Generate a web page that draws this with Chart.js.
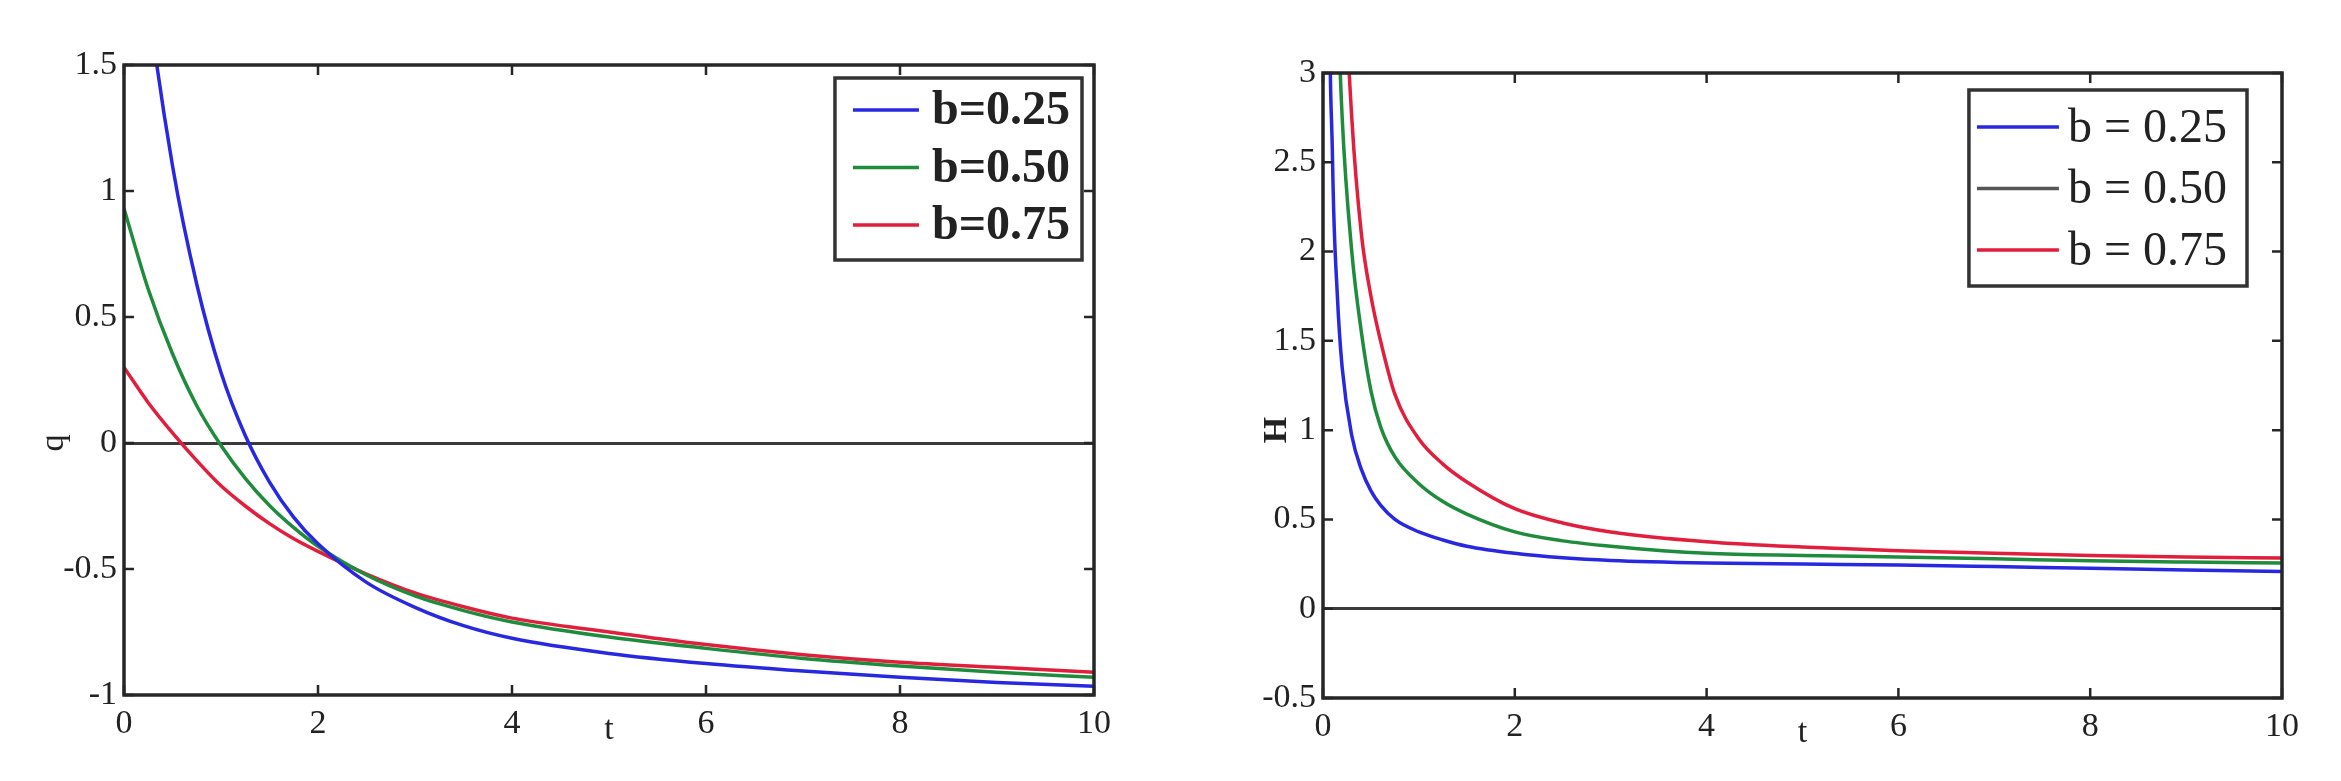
<!DOCTYPE html>
<html>
<head>
<meta charset="utf-8">
<script src="https://cdn.jsdelivr.net/npm/chart.js@4.4.1/dist/chart.umd.min.js"></script>
<style>
  html, body { margin: 0; padding: 0; background: #fff; }
  #wrap { position: relative; width: 2341px; height: 781px; background: #fff; }
  canvas { position: absolute; top: 0; }
  #qChart { left: 0; }
  #hChart { left: 1170px; }
</style>
</head>
<body>
<div id="wrap">
  <canvas id="qChart" width="1170" height="781"></canvas>
  <canvas id="hChart" width="1171" height="781"></canvas>
</div>
<script>
// ---- data ----
const xTicks = [0, 2, 4, 6, 8, 10];

// left panel: q(t)
const qLabels = ['b=0.25', 'b=0.50', 'b=0.75'];
const tQ  = [0, 0.25, 0.5, 0.75, 1, 1.25, 1.5, 1.75, 2, 2.5, 3, 3.5, 4, 5, 6, 7, 8, 9, 10];
const q25 = [2.7, 1.76, 1.10, 0.63, 0.28, 0.03, -0.155, -0.295, -0.40, -0.553, -0.652, -0.725, -0.775, -0.835, -0.875, -0.905, -0.93, -0.95, -0.965];
const q50 = [0.93, 0.61, 0.354, 0.148, -0.01, -0.14, -0.248, -0.336, -0.41, -0.524, -0.607, -0.665, -0.71, -0.77, -0.815, -0.855, -0.885, -0.91, -0.93];
const q75 = [0.30, 0.16, 0.04, -0.07, -0.17, -0.25, -0.32, -0.38, -0.43, -0.52, -0.595, -0.65, -0.695, -0.75, -0.80, -0.84, -0.87, -0.89, -0.91];

// right panel: H(t)
const hLabels = ['b = 0.25', 'b = 0.50', 'b = 0.75'];
const tH  = [0.02, 0.05, 0.1, 0.15, 0.2, 0.3, 0.4, 0.5, 0.6, 0.75, 1, 1.25, 1.5, 2, 2.5, 3, 4, 5, 6, 7, 8, 9, 10];
const h25 = [11.7, 4.8, 2.5, 1.75, 1.35, 0.97, 0.78, 0.66, 0.58, 0.50, 0.43, 0.385, 0.35, 0.31, 0.285, 0.27, 0.256, 0.25, 0.245, 0.236, 0.226, 0.217, 0.209];
const h50 = [20, 9, 4.8, 3.5, 2.75, 2.0, 1.55, 1.22, 1.02, 0.85, 0.70, 0.60, 0.53, 0.43, 0.38, 0.35, 0.31, 0.298, 0.29, 0.28, 0.268, 0.261, 0.256];
const h75 = [30, 13, 7, 5.0, 3.9, 2.75, 2.1, 1.75, 1.5, 1.2, 0.95, 0.81, 0.71, 0.56, 0.48, 0.43, 0.375, 0.345, 0.325, 0.31, 0.298, 0.29, 0.284];

const lineColors = ['rgb(40,40,225)', 'rgb(30,140,60)', 'rgb(225,30,60)'];

const SERIF = '"Liberation Serif", "DejaVu Serif", serif';

function toPoints(xs, ys) {
  return xs.map((x, i) => ({ x: x, y: ys[i] }));
}

// box frame with inward ticks on all four sides, plus free text labels
const framePlugin = {
  id: 'frame',
  afterDraw(chart, args, opts) {
    const { ctx, chartArea: a } = chart;
    const xs = chart.scales.x, ys = chart.scales.y;
    ctx.save();
    ctx.strokeStyle = '#262626';
    ctx.lineWidth = 2.5;
    ctx.beginPath();
    xs.ticks.forEach(tk => {
      const px = xs.getPixelForValue(tk.value);
      ctx.moveTo(px, a.bottom); ctx.lineTo(px, a.bottom - 10);
      ctx.moveTo(px, a.top); ctx.lineTo(px, a.top + 10);
    });
    ys.ticks.forEach(tk => {
      const py = ys.getPixelForValue(tk.value);
      ctx.moveTo(a.left, py); ctx.lineTo(a.left + 10, py);
      ctx.moveTo(a.right, py); ctx.lineTo(a.right - 10, py);
    });
    ctx.stroke();
    ctx.lineWidth = 3.5;
    ctx.strokeRect(a.left, a.top, a.width, a.height);

    // axis names
    ctx.fillStyle = '#222';
    ctx.textAlign = 'center';
    ctx.textBaseline = 'middle';
    ctx.font = opts.xFont;
    ctx.fillText(opts.xTitle, xs.getPixelForValue(opts.xTitleAt), a.bottom + 35);
    ctx.translate(opts.yTitleX, ys.getPixelForValue(opts.yTitleAt));
    ctx.rotate(-Math.PI / 2);
    ctx.font = opts.yFont;
    ctx.fillText(opts.yTitle, 0, 0);
    ctx.restore();
  }
};

// legend box drawn inside the axes, top right
const boxLegendPlugin = {
  id: 'boxLegend',
  afterDraw(chart, args, opts) {
    const { ctx, chartArea: a } = chart;
    const sets = chart.data.datasets;
    ctx.save();
    ctx.font = opts.font;
    let textW = 0;
    sets.forEach(ds => { textW = Math.max(textW, ctx.measureText(ds.label).width); });
    const w = opts.padLeft + opts.lineLen + opts.gap + textW + opts.padRight;
    const h = opts.firstRow + opts.rowGap * (sets.length - 1) + opts.lastPad;
    const left = a.right - opts.insetRight - w;
    const top = a.top + opts.insetTop;

    ctx.fillStyle = '#fff';
    ctx.fillRect(left, top, w, h);
    ctx.strokeStyle = '#333';
    ctx.lineWidth = 3.5;
    ctx.strokeRect(left, top, w, h);

    sets.forEach((ds, i) => {
      const cy = top + opts.firstRow + i * opts.rowGap;
      ctx.strokeStyle = opts.colors ? opts.colors[i] : ds.borderColor;
      ctx.lineWidth = 3.5;
      ctx.beginPath();
      ctx.moveTo(left + opts.padLeft, cy);
      ctx.lineTo(left + opts.padLeft + opts.lineLen, cy);
      ctx.stroke();
      ctx.fillStyle = '#222';
      ctx.textAlign = 'left';
      ctx.textBaseline = 'middle';
      ctx.fillText(ds.label, left + opts.padLeft + opts.lineLen + opts.gap, cy + 2);
    });
    ctx.restore();
  }
};

function makeChart(canvasId, setup) {
  const ctx = document.getElementById(canvasId).getContext('2d');
  const datasets = setup.series.map((ys, i) => ({
    label: setup.labels[i],
    data: toPoints(setup.t, ys),
    borderColor: lineColors[i],
    backgroundColor: lineColors[i],
    borderWidth: 3.5,
    pointRadius: 0,
    cubicInterpolationMode: 'monotone',
    fill: false
  }));

  return new Chart(ctx, {
    type: 'line',
    data: { datasets: datasets },
    options: {
      responsive: false,
      animation: false,
      layout: { padding: setup.padding },
      plugins: {
        legend: { display: false },
        tooltip: { enabled: false },
        frame: setup.frame,
        boxLegend: setup.legend
      },
      scales: {
        x: {
          type: 'linear',
          min: 0,
          max: 10,
          afterBuildTicks: axis => { axis.ticks = xTicks.map(v => ({ value: v })); },
          grid: { display: false, drawTicks: false },
          border: { display: false },
          ticks: {
            padding: 9,
            color: '#222',
            font: { family: SERIF, size: 34 },
            maxRotation: 0,
            callback: v => String(v)
          },
          afterFit: axis => { axis.height = setup.xAxisHeight; }
        },
        y: {
          type: 'linear',
          min: setup.yMin,
          max: setup.yMax,
          ticks: {
            stepSize: 0.5,
            padding: 7,
            color: '#222',
            font: { family: SERIF, size: 34 },
            callback: v => String(v)
          },
          grid: {
            drawTicks: false,
            color: c => (c.tick && c.tick.value === 0 ? '#3a3a3a' : 'rgba(0,0,0,0)'),
            lineWidth: 3
          },
          border: { display: false },
          afterFit: axis => { axis.width = setup.yAxisWidth; }
        }
      }
    },
    plugins: [framePlugin, boxLegendPlugin]
  });
}

// left panel
makeChart('qChart', {
  t: tQ,
  series: [q25, q50, q75],
  labels: qLabels,
  yMin: -1,
  yMax: 1.5,
  padding: { left: 0, right: 76, top: 65, bottom: 0 },
  yAxisWidth: 124,
  xAxisHeight: 86,
  frame: {
    xTitle: 't', xTitleAt: 5, xFont: '34px ' + SERIF,
    yTitle: 'q', yTitleAt: 0, yTitleX: 54, yFont: '34px ' + SERIF
  },
  legend: {
    font: 'bold 48px ' + SERIF,
    insetRight: 12, insetTop: 13,
    padLeft: 18, lineLen: 66, gap: 13, padRight: 12,
    firstRow: 32, rowGap: 57.5, lastPad: 35
  }
});

// right panel
makeChart('hChart', {
  t: tH,
  series: [h25, h50, h75],
  labels: hLabels,
  yMin: -0.5,
  yMax: 3,
  padding: { left: 0, right: 59, top: 73, bottom: 0 },
  yAxisWidth: 153,
  xAxisHeight: 83,
  frame: {
    xTitle: 't', xTitleAt: 5, xFont: '34px ' + SERIF,
    yTitle: 'H', yTitleAt: 1, yTitleX: 107, yFont: 'bold 34px ' + SERIF
  },
  legend: {
    font: '48px ' + SERIF,
    colors: ['rgb(40,40,225)', '#555', 'rgb(225,30,60)'],
    insetRight: 35, insetTop: 17,
    padLeft: 8, lineLen: 82, gap: 9, padRight: 20,
    firstRow: 37, rowGap: 61.5, lastPad: 36
  }
});
</script>
</body>
</html>
